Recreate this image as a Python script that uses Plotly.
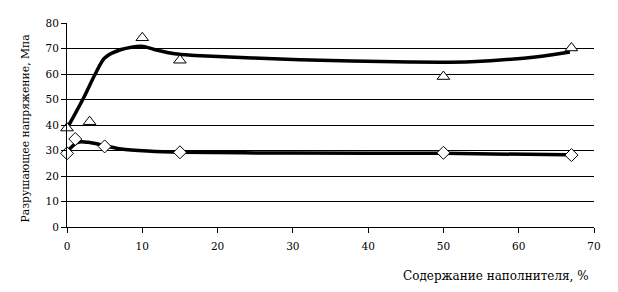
import plotly.graph_objects as go

# Measured points
tri_x = [0, 3, 10, 15, 50, 67]
tri_y = [38.8, 41.3, 74.2, 65.4, 59.0, 70.2]
dia_x = [0, 1.1, 5, 15, 50, 67]
dia_y = [28.9, 34.5, 31.6, 29.3, 29.1, 28.2]

# Smoothed curves
up_x = [0, 1.0, 2.3, 3.7, 5.0, 7.2, 9.9, 11.6, 14.3, 17.0, 30.9, 45.5, 53.7, 62.8, 66.8]
up_y = [38.7, 44.0, 51.2, 59.7, 66.3, 69.6, 70.9, 69.6, 67.9, 67.3, 65.6, 64.7, 64.8, 66.9, 68.6]
lo_x = [0, 1.4, 2.8, 5.0, 7.2, 10.7, 15.2, 30, 50, 66.4]
lo_y = [29.5, 33.2, 33.2, 31.9, 30.6, 29.8, 29.3, 29.0, 28.9, 28.3]

x_ticks = [0, 10, 20, 30, 40, 50, 60, 70]
y_ticks = [0, 10, 20, 30, 40, 50, 60, 70, 80]

FONT = "DejaVu Serif"

fig = go.Figure()
fig.add_trace(go.Scatter(x=up_x, y=up_y, mode="lines",
                         line=dict(color="black", width=3.5, shape="spline", smoothing=0.8),
                         hoverinfo="skip"))
fig.add_trace(go.Scatter(x=lo_x, y=lo_y, mode="lines",
                         line=dict(color="black", width=3.5, shape="spline", smoothing=0.8),
                         hoverinfo="skip"))
fig.add_trace(go.Scatter(x=tri_x, y=tri_y, mode="markers", cliponaxis=False,
                         marker=dict(symbol="triangle-up", size=11, color="white",
                                     line=dict(color="black", width=1))))
fig.add_trace(go.Scatter(x=dia_x, y=dia_y, mode="markers", cliponaxis=False,
                         marker=dict(symbol="diamond", size=10, color="white",
                                     line=dict(color="black", width=1))))

fig.update_layout(
    width=618, height=292,
    margin=dict(l=67, r=24, t=23, b=65),
    paper_bgcolor="white", plot_bgcolor="white",
    showlegend=False,
    font=dict(family=FONT, size=11, color="black"),
    xaxis=dict(range=[0, 70], tickvals=x_ticks, showgrid=False, zeroline=False,
               showline=True, linecolor="black", linewidth=1,
               ticks="outside", ticklen=5, tickcolor="black", ticklabelstandoff=4,
               tickfont=dict(family=FONT, size=10.5)),
    yaxis=dict(range=[0, 80], tickvals=y_ticks, showgrid=True, gridcolor="black",
               gridwidth=1, zeroline=False, showline=True, linecolor="black",
               linewidth=1, ticks="outside", ticklen=5, tickcolor="black",
               tickfont=dict(family=FONT, size=10.5)),
    annotations=[
        dict(text="Содержание наполнителя, %", xref="paper", yref="paper",
             x=(591 - 67) / (618 - 67 - 24), y=-(276 - 227) / (292 - 23 - 65),
             xanchor="right", yanchor="middle", showarrow=False,
             font=dict(family=FONT, size=12)),
        dict(text="Разрушающее напряжение, Мпа", xref="paper", yref="paper",
             x=-(67 - 25) / (618 - 67 - 24), y=(227 - 128.5) / (292 - 23 - 65),
             xanchor="center", yanchor="middle", textangle=-90, showarrow=False,
             font=dict(family=FONT, size=10.8)),
    ],
)

fig.write_html("out.html")
